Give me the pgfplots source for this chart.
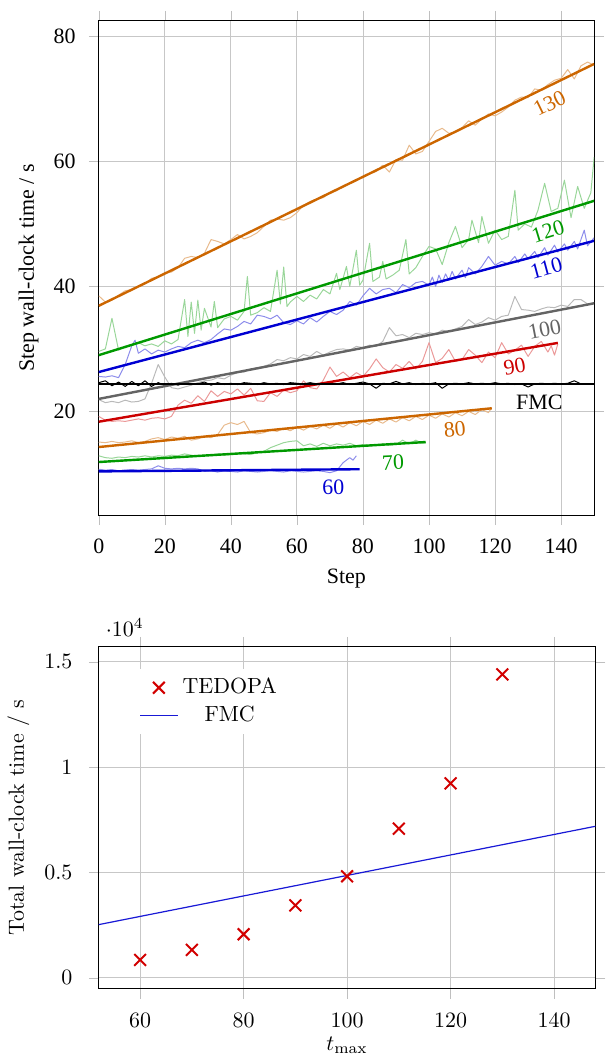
\documentclass[border=0pt]{standalone}
\usepackage{fontspec}
\usepackage{pgfplots}
\pgfplotsset{compat=1.18}
\newfontfamily\tnr{Liberation Serif}
\definecolor{corange}{RGB}{204,102,0}
\definecolor{cgreen}{RGB}{0,153,0}
\definecolor{cblue}{RGB}{0,0,210}
\definecolor{cred}{RGB}{204,0,0}
\definecolor{cgray}{RGB}{100,100,100}
\definecolor{cmark}{RGB}{210,0,0}
\pgfplotsset{
  noise/.style={line width=0.45pt, line join=round},
  fit/.style={line width=1.1pt},
}
\begin{document}
\begin{tikzpicture}
\begin{axis}[name=top,
  width=225.8pt, height=225.3pt, scale only axis,
  xmin=0, xmax=150, ymin=3.4, ymax=82.5,
  xtick={0,20,...,140}, ytick={20,40,60,80},
  grid=major, major grid style={black!22},
  tick align=outside, major tick length=4.5pt, major tick style={black!25},
  xticklabel shift=3pt, yticklabel shift=2.5pt,
  font=\tnr, tick label style={font=\tnr},
  /pgf/number format/assume math mode=true,
  xlabel={Step}, ylabel={Step wall-clock time / s},
  label style={font=\tnr},
]
% 130
\addplot[noise, corange!45] coordinates {(0,38.5)(2,37.5)(4,37.8)(6,38.6)(8,39.3)(10,39.5)(12,40.0)(14,40.4)(16,41.3)(18,41.5)(20,42.1)(22,42.3)(24,43.0)(26,44.5)(28,44.8)(30,44.6)(32,45.3)(34,47.5)(36,47.2)(38,46.8)(40,47.5)(42,48.3)(44,47.6)(46,48.0)(48,48.6)(50,49.6)(52,50.6)(54,50.8)(56,50.6)(58,51.0)(60,51.8)(62,53.0)(64,53.6)(66,54.0)(68,54.2)(70,55.0)(72,55.3)(74,56.0)(76,56.5)(78,56.9)(80,57.6)(82,58.0)(84,58.4)(86,59.4)(88,58.3)(90,60.3)(92,60.2)(94,62.6)(96,61.2)(98,61.6)(100,63.2)(102,64.8)(104,65.3)(106,64.5)(108,64.6)(110,65.4)(112,66.5)(114,65.8)(116,66.8)(118,67.6)(120,67.3)(122,67.9)(124,68.7)(126,69.8)(128,70.3)(130,70.2)(132,71.6)(134,71.4)(136,72.3)(138,73.0)(140,73.3)(142,74.7)(144,73.2)(146,75.3)(148,75.9)(150,75.4)};
% 120
\addplot[noise, cgreen!40] coordinates {(0,29.6)(2,30.0)(4,34.9)(6,29.8)(8,30.4)(10,30.6)(12,31.0)(14,30.5)(16,30.8)(18,30.4)(20,31.3)(22,30.8)(24,31.5)(26,37.9)(27,32.0)(28,37.5)(29,32.5)(30,37.8)(31,33.0)(32,36.5)(34,33.5)(35,37.6)(36,33.4)(38,34.8)(40,35.2)(42,34.6)(44,36.0)(45,41.6)(46,35.4)(48,35.8)(50,36.6)(52,36.0)(54,42.6)(55,37.2)(56,43.1)(57,36.8)(58,37.5)(60,38.4)(62,37.6)(64,38.6)(66,38.0)(68,39.5)(70,38.8)(72,42.1)(73,39.5)(75,43.2)(76,40.0)(78,45.8)(79,40.2)(80,41.0)(82,46.9)(83,40.8)(85,41.5)(86,44.0)(87,41.2)(89,41.8)(91,42.6)(93,47.5)(94,42.0)(96,43.0)(98,44.8)(100,46.4)(102,46.0)(104,43.5)(106,47.0)(108,49.6)(110,46.2)(112,47.5)(113,50.6)(115,47.0)(116,51.2)(118,46.9)(120,49.0)(122,47.5)(124,48.0)(126,55.4)(127,49.0)(129,50.0)(131,49.5)(133,52.2)(135,56.5)(137,52.0)(139,52.5)(141,57.0)(143,51.0)(145,56.0)(147,52.5)(149,55.0)(150,60.7)};
% 110
\addplot[noise, cblue!45] coordinates {(0,25.6)(2,25.5)(4,25.7)(6,25.4)(8,27.5)(10,30.5)(11,31.4)(12,29.3)(14,30.0)(16,29.2)(18,29.8)(20,29.5)(22,30.0)(24,30.4)(26,30.2)(28,31.0)(30,31.4)(32,31.0)(34,31.5)(36,32.4)(38,33.2)(40,33.0)(42,33.6)(44,34.4)(46,34.0)(48,35.4)(50,35.2)(52,34.8)(54,35.4)(56,34.2)(58,33.9)(60,34.5)(62,34.0)(64,35.0)(66,34.3)(68,35.2)(70,36.0)(72,35.5)(74,36.2)(76,37.6)(78,37.0)(80,38.5)(82,39.7)(84,38.8)(86,39.5)(88,39.7)(90,39.0)(92,40.3)(94,39.8)(96,40.6)(98,40.8)(100,40.2)(101,41.5)(102,40.0)(103,41.8)(104,40.6)(105,42.0)(106,41.0)(107,42.4)(108,41.2)(110,42.6)(111,41.4)(112,43.0)(114,42.0)(116,43.2)(118,44.8)(120,43.4)(122,44.0)(124,43.6)(126,44.8)(127,43.8)(129,45.2)(130,44.4)(132,45.6)(133,44.6)(135,46.2)(136,45.0)(138,46.6)(139,45.5)(141,46.8)(142,45.8)(144,47.2)(145,46.0)(147,49.0)(148,46.5)(150,47.8)};
% 100
\addplot[noise, cgray!45] coordinates {(0,21.9)(2,21.4)(4,21.6)(6,21.4)(8,21.8)(10,21.5)(12,21.6)(14,22.0)(16,24.5)(18,27.5)(20,25.5)(22,23.8)(24,23.6)(26,23.9)(28,24.2)(30,24.6)(32,24.9)(34,25.0)(36,25.4)(38,25.2)(40,25.8)(42,26.2)(44,26.3)(46,26.8)(48,27.0)(50,27.2)(52,27.6)(54,28.3)(56,28.1)(58,28.6)(60,28.4)(62,29.1)(64,28.8)(66,29.6)(68,29.0)(70,29.5)(72,29.9)(74,30.0)(76,29.8)(78,30.4)(80,30.2)(82,30.6)(84,30.4)(86,31.2)(88,33.4)(90,32.1)(92,32.3)(94,31.8)(96,32.5)(98,32.3)(100,32.6)(102,32.4)(104,33.0)(106,32.8)(108,33.2)(110,33.6)(112,34.7)(114,33.9)(116,34.3)(118,35.0)(120,34.6)(122,35.2)(124,35.4)(126,38.4)(128,36.3)(130,36.2)(132,36.0)(134,36.4)(136,36.7)(138,36.6)(140,37.0)(142,36.8)(144,37.9)(146,37.9)(148,37.2)(150,37.4)};
% 90
\addplot[noise, cred!40] coordinates {(0,19.2)(2,18.6)(4,18.4)(6,18.5)(8,18.4)(10,18.6)(12,18.8)(14,18.6)(16,18.9)(18,19.0)(20,18.8)(22,19.2)(24,21.0)(26,21.8)(28,21.3)(30,22.5)(32,21.6)(34,23.3)(36,22.4)(38,23.2)(40,22.8)(42,23.6)(44,22.6)(46,23.7)(48,21.7)(50,21.6)(52,23.0)(54,22.4)(56,23.4)(58,23.0)(60,23.3)(62,24.9)(64,23.8)(66,23.6)(68,25.0)(70,27.1)(72,25.6)(74,26.3)(76,25.4)(78,26.2)(80,25.6)(82,26.8)(84,28.4)(86,27.0)(88,26.3)(90,27.5)(92,26.9)(94,28.0)(96,26.8)(98,28.0)(100,31.0)(102,27.8)(104,28.5)(106,29.9)(108,28.0)(110,28.3)(112,29.9)(114,29.0)(116,27.8)(118,29.5)(120,28.6)(122,31.0)(124,29.2)(126,29.8)(128,30.6)(130,28.8)(132,30.4)(134,31.2)(136,29.5)(137,30.5)(138,29.0)(139,30.8)};
% 80
\addplot[noise, corange!45] coordinates {(0,15.1)(2,15.0)(4,15.2)(6,15.0)(8,15.1)(10,15.3)(12,15.0)(14,15.2)(16,15.6)(18,15.8)(20,15.5)(22,15.9)(24,15.7)(26,16.0)(28,15.4)(30,15.6)(32,16.0)(34,15.8)(36,16.3)(38,17.8)(40,18.2)(42,17.9)(44,18.4)(46,16.6)(48,16.4)(50,16.6)(52,17.0)(54,16.8)(56,17.3)(58,16.9)(60,17.5)(62,17.0)(64,17.6)(66,17.2)(68,17.8)(70,17.3)(72,18.0)(74,17.5)(76,18.2)(78,17.7)(80,18.4)(82,17.9)(84,18.6)(86,18.1)(88,18.8)(90,18.3)(92,19.0)(94,18.5)(96,19.2)(98,18.7)(100,19.4)(102,18.9)(104,19.6)(106,19.1)(108,19.8)(110,19.3)(112,20.0)(114,19.5)(116,20.3)(118,19.8)(119,20.6)};
% 70
\addplot[noise, cgreen!40] coordinates {(0,12.9)(2,12.6)(4,12.5)(6,12.7)(8,12.6)(10,12.8)(12,12.7)(14,12.9)(16,12.7)(18,12.9)(20,12.8)(22,13.0)(24,12.9)(26,13.2)(28,13.0)(30,12.8)(32,13.0)(34,12.9)(36,13.2)(38,13.0)(40,13.1)(42,13.3)(44,13.2)(46,13.1)(48,13.4)(50,13.6)(52,14.2)(54,14.6)(56,15.0)(58,15.2)(60,15.3)(62,14.5)(64,14.8)(66,14.4)(68,14.9)(70,14.5)(72,14.8)(74,14.6)(76,14.9)(78,14.5)(80,14.7)(82,14.5)(84,14.6)(86,14.8)(88,14.6)(90,14.7)(92,15.4)(94,14.8)(96,15.4)(98,14.9)(99,15.0)};
% 60
\addplot[noise, cblue!45] coordinates {(0,10.75)(2,10.6)(4,10.7)(6,10.5)(8,10.6)(10,10.7)(12,10.6)(14,10.7)(16,10.8)(18,11.3)(20,10.9)(22,10.8)(24,10.9)(26,10.8)(28,10.9)(30,10.8)(32,10.4)(34,10.5)(36,10.3)(38,10.5)(40,10.4)(42,10.3)(44,10.5)(46,10.4)(48,10.3)(50,10.4)(52,10.5)(54,10.4)(56,10.3)(58,10.5)(60,10.4)(62,10.3)(64,10.4)(66,10.5)(68,10.4)(70,10.2)(72,10.5)(74,11.8)(76,12.6)(77,12.2)(78,12.9)};
% FMC
\addplot[noise, black] coordinates {(0,24.6)(2,24.9)(4,24.1)(6,24.7)(8,24.0)(10,24.8)(12,24.1)(14,24.9)(16,24.0)(18,24.6)(20,24.2)(22,24.5)(24,24.2)(26,24.6)(28,24.3)(30,24.4)(32,24.7)(34,24.2)(36,24.6)(38,24.3)(40,24.5)(42,24.3)(44,24.6)(46,24.5)(48,24.3)(50,24.6)(52,24.4)(54,24.5)(56,24.3)(58,24.6)(60,24.5)(62,24.4)(64,24.6)(66,24.4)(68,24.5)(70,24.6)(72,24.4)(74,24.6)(76,24.3)(78,24.5)(80,24.7)(82,24.4)(84,23.7)(86,24.5)(88,24.4)(90,24.8)(92,24.4)(94,24.6)(96,24.3)(98,24.5)(100,24.4)(102,24.6)(104,23.7)(106,24.4)(108,24.5)(110,24.4)(112,24.6)(114,24.4)(116,24.5)(118,24.4)(120,24.6)(122,24.4)(124,24.5)(126,24.3)(128,24.4)(130,23.9)(132,24.4)(134,24.5)(136,24.4)(138,24.5)(140,24.4)(142,24.5)(144,24.9)(146,24.4)(148,24.4)(150,24.4)};
% fits
\addplot[fit, corange] coordinates {(0,36.9)(150,75.6)};
\addplot[fit, cgreen] coordinates {(0,29.0)(150,53.7)};
\addplot[fit, cblue] coordinates {(0,26.3)(150,47.3)};
\addplot[fit, cgray] coordinates {(0,22.0)(150,37.3)};
\addplot[fit, cred] coordinates {(0,18.35)(139,30.96)};
\addplot[fit, corange] coordinates {(0,14.3)(119,20.5)};
\addplot[fit, cgreen] coordinates {(0,11.9)(99,15.1)};
\addplot[fit, cblue] coordinates {(0,10.4)(79,10.75)};
\addplot[fit, black] coordinates {(0,24.4)(150,24.4)};
% labels
\node[corange, rotate=26, font=\tnr] at (axis cs:136.5,69.3) {130};
\node[cgreen, rotate=17, font=\tnr] at (axis cs:136,48.8) {120};
\node[cblue, rotate=15, font=\tnr] at (axis cs:135.5,42.9) {110};
\node[cgray, rotate=11, font=\tnr] at (axis cs:135,33.1) {100};
\node[cred, rotate=10, font=\tnr] at (axis cs:125.9,27.2) {90};
\node[corange, rotate=5.6, font=\tnr] at (axis cs:107.8,17.1) {80};
\node[cgreen, rotate=2.7, font=\tnr] at (axis cs:89.1,11.8) {70};
\node[cblue, rotate=0.5, font=\tnr] at (axis cs:71,7.8) {60};
\node[black, font=\tnr] at (axis cs:133.4,21.4) {FMC};
\end{axis}
\path (top.north west) ++(0,9.5pt) -- ++(1pt,0);

\begin{axis}[at={(0pt,-60pt)}, anchor=north west,
  width=226.4pt, height=155.9pt, scale only axis,
  xmin=52, xmax=148, ymin=-520, ymax=15710,
  xtick={60,80,...,140}, ytick={0,5000,10000,15000},
  grid=major, major grid style={black!22},
  tick align=outside, major tick length=4.5pt, major tick style={black!25},
  xticklabel shift=3pt, yticklabel shift=4pt,
  xlabel={$t_{\max}$}, ylabel={Total wall-clock time / s},
  xlabel style={yshift=2.5pt},
  legend style={at={(0.068,0.935)}, anchor=north west, draw=none, fill=white},
  legend cell align=center,
]
\addplot[only marks, mark=x, mark size=3.8pt, cmark, mark options={line width=0.9pt}] coordinates {(60,850)(70,1330)(80,2070)(90,3440)(100,4820)(110,7080)(120,9230)(130,14400)};
\addlegendentry{TEDOPA}
\addplot[cblue!90, line width=0.55pt] coordinates {(52,2527)(148,7193)};
\addlegendentry{FMC}
\end{axis}
\end{tikzpicture}
\end{document}
